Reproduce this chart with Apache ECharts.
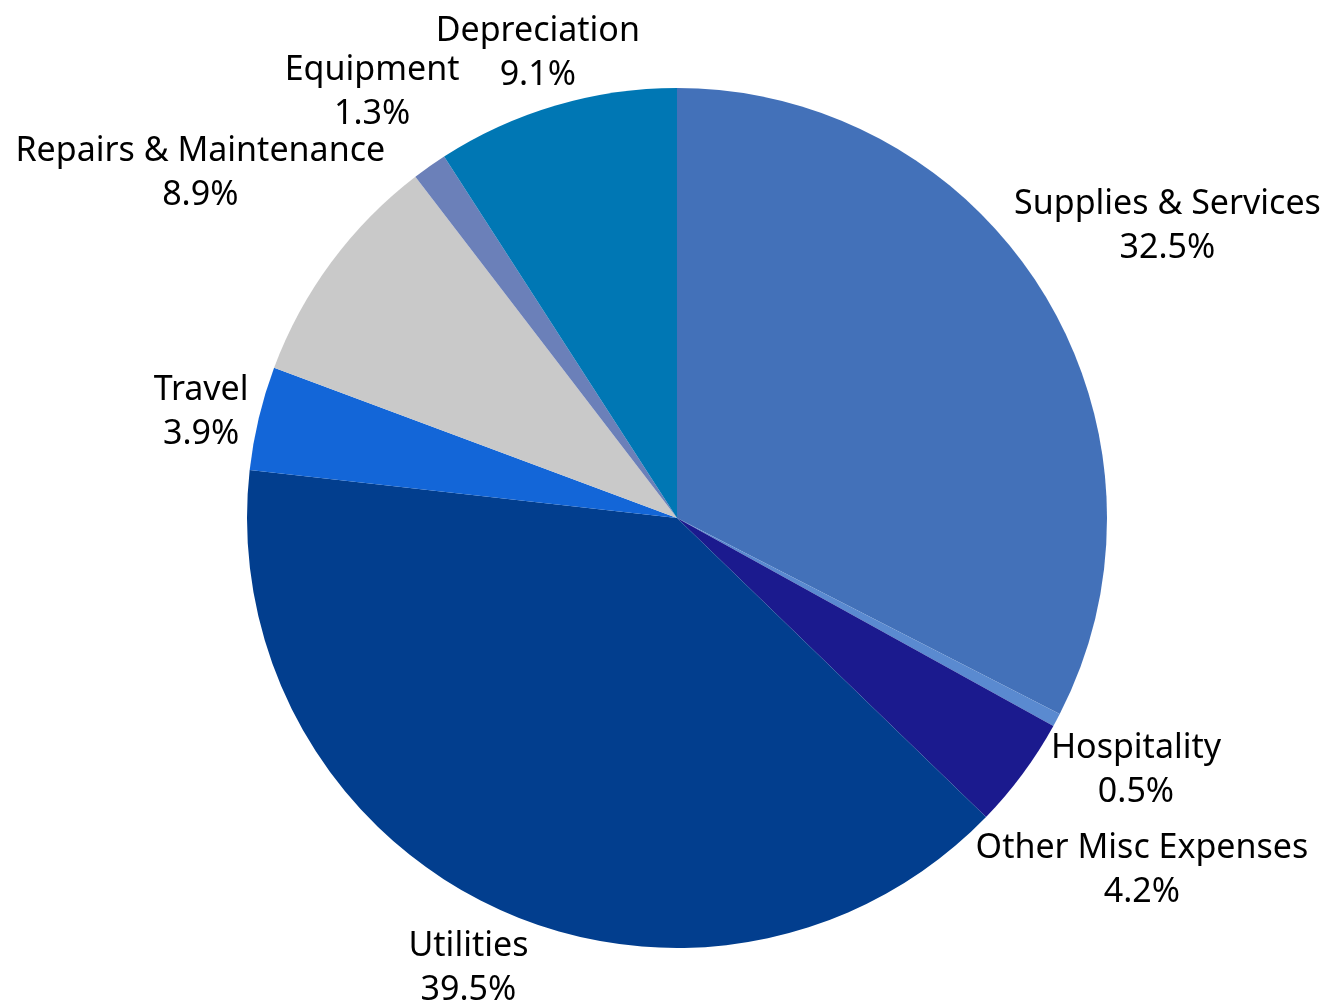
<!DOCTYPE html>
<html>
<head>
<meta charset="utf-8">
<title>Expense Breakdown</title>
<script src="https://cdn.jsdelivr.net/npm/echarts@6/dist/echarts.min.js"></script>
<style>
  html, body { margin: 0; padding: 0; background: #ffffff; }
  #chart { width: 1330px; height: 1006px; }
</style>
</head>
<body>
<div id="chart"></div>
<script>
// Expense categories, clockwise from 12 o'clock
const categories = [
  'Supplies & Services',
  'Hospitality',
  'Other Misc Expenses',
  'Utilities',
  'Travel',
  'Repairs & Maintenance',
  'Equipment',
  'Depreciation'
];
// Share of total expenses, in percent
const shares = [32.5, 0.5, 4.2, 39.5, 3.9, 8.9, 1.3, 9.1];
const sliceColors = [
  '#4371B9', '#5A8AD0', '#1B1A8E', '#023E8E',
  '#1366D8', '#C9C9C9', '#6B80B9', '#0077B4'
];

// Layout constants
const CENTER = [677, 518];
const RADIUS = 430;
const FONT_SIZE = 34;
const LINE_HEIGHT = 44;
const LABEL_GAP = 12;
const LABEL_DROP = 8;      // labels sit slightly below their ray point
const GLYPH_H = 32;        // glyph extent of one text line, used for collisions
const PAD = 4;
const LABEL_FONT = '"Noto Sans", sans-serif';

function labelLines(i) {
  return [categories[i], shares[i].toFixed(1) + '%'];
}

// Place each label outside the pie along its slice's mid-angle ray,
// pushing smaller slices' labels outward when their text lines collide.
const measureCtx = document.createElement('canvas').getContext('2d');
measureCtx.font = FONT_SIZE + 'px ' + LABEL_FONT;
const total = shares.reduce((a, b) => a + b, 0);
let acc = 0;
const boxes = shares.map((v, i) => {
  const mid = (acc + v / 2) / total * 2 * Math.PI;
  acc += v;
  const dx = Math.sin(mid), dy = -Math.cos(mid);
  const lineW = labelLines(i).map(s => measureCtx.measureText(s).width);
  const w = Math.max(...lineW);
  const h = LINE_HEIGHT * lineW.length;
  return { dx, dy, w, h, lineW, t: RADIUS + LABEL_GAP + Math.hypot(dx * w / 2, dy * h / 2) };
});
function anchorOf(b) {
  return [CENTER[0] + b.dx * b.t, CENTER[1] + b.dy * b.t + LABEL_DROP];
}
function lineRects(b) {
  const [cx, cy] = anchorOf(b);
  const n = b.lineW.length;
  return b.lineW.map((lw, k) => {
    const ly = cy + (k - (n - 1) / 2) * LINE_HEIGHT;
    return { x1: cx - lw / 2, x2: cx + lw / 2, y1: ly - GLYPH_H / 2, y2: ly + GLYPH_H / 2 };
  });
}
function hit(a, b) {
  return a.x1 < b.x2 + PAD && b.x1 < a.x2 + PAD && a.y1 < b.y2 + PAD && b.y1 < a.y2 + PAD;
}
function collides(b, others) {
  const mine = lineRects(b);
  return others.some(o => lineRects(o).some(r => mine.some(m => hit(m, r))));
}
const order = shares.map((v, i) => i).sort((a, b) => shares[b] - shares[a]);
const placed = [];
order.forEach(i => {
  const b = boxes[i];
  let guard = 0;
  while (collides(b, placed) && guard++ < 400) b.t += 1;
  placed.push(b);
});

const chart = echarts.init(document.getElementById('chart'), null, { renderer: 'canvas' });
chart.setOption({
  backgroundColor: '#ffffff',
  animation: false,
  series: [{
    type: 'pie',
    center: CENTER,
    radius: RADIUS,
    startAngle: 90,
    clockwise: true,
    avoidLabelOverlap: false,
    silent: true,
    itemStyle: { borderWidth: 0 },
    label: {
      show: true,
      position: 'outside',
      formatter: p => labelLines(p.dataIndex).join('\n'),
      fontFamily: LABEL_FONT,
      fontSize: FONT_SIZE,
      lineHeight: LINE_HEIGHT,
      color: '#000000',
      align: 'center'
    },
    labelLine: { show: false },
    labelLayout: params => {
      const [x, y] = anchorOf(boxes[params.dataIndex]);
      return { x, y, align: 'center', verticalAlign: 'middle' };
    },
    data: categories.map((name, i) => ({
      name,
      value: shares[i],
      itemStyle: { color: sliceColors[i] }
    }))
  }]
});
</script>
</body>
</html>
